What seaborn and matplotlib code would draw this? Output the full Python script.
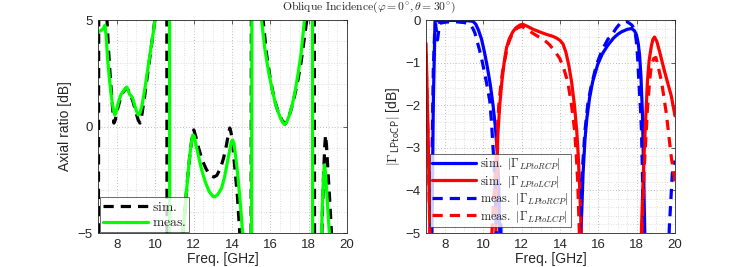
import numpy as np
import pandas as pd
import matplotlib
matplotlib.use("Agg")
import matplotlib.pyplot as plt
import seaborn as sns
from matplotlib.ticker import MultipleLocator

# ---------------- data ----------------
# Left panel: axial ratio [dB]  (values beyond +/-5 are off-scale)
ar_sim_f = [7.0, 7.06, 7.40, 7.47, 7.55, 7.65, 7.75, 7.83, 7.9, 8.0, 8.15, 8.3, 8.45, 8.55, 8.7,
            8.85, 9.0, 9.1, 9.19, 9.28, 9.4, 9.55, 9.7, 9.85, 9.97, 10.1, 10.58, 10.62, 11.2,
            11.43, 11.55, 11.7, 11.8, 11.9, 12.0, 12.1, 12.25, 12.45, 12.65, 12.85, 13.05, 13.2,
            13.4, 13.55, 13.7, 13.82, 13.88, 13.95, 14.05, 14.15, 14.28, 14.4, 14.5, 14.98, 15.02,
            15.55, 15.62, 15.8, 16.0, 16.2, 16.4, 16.6, 16.77, 16.9, 17.05, 17.2, 17.4, 17.6,
            17.75, 17.9, 18.0, 18.28, 18.32, 18.6, 18.7, 18.78, 18.84, 18.88, 18.93, 19.0, 19.1,
            19.19, 19.3, 20.0]
ar_sim = [-20, 20, 9, 5.0, 3.6, 2.2, 1.0, 0.16, 0.3, 0.75, 1.25, 1.6, 1.78, 1.75, 1.5,
          1.1, 0.6, 0.3, 0.16, 0.5, 1.2, 2.2, 3.2, 4.2, 5.0, 6.5, 20, -20, -10,
          -5.0, -3.8, -2.2, -1.3, -0.6, -0.16, -0.45, -1.0, -1.6, -2.0, -2.3, -2.37, -2.3,
          -1.95, -1.5, -0.9, -0.3, -0.07, -0.3, -1.0, -2.0, -3.3, -5.0, -7.0, -20, 20,
          6.0, 5.0, 3.4, 2.2, 1.3, 0.7, 0.3, 0.12, 0.3, 0.7, 1.2, 2.0, 3.0,
          4.0, 5.0, 6.0, 20, -20, -8, -4.5, -2.2, -0.9, -0.4, -0.9, -2.0, -3.5,
          -5.0, -8.0, -20]

ar_meas_f = [7.0, 7.15, 7.28, 7.36, 7.42, 7.5, 7.6, 7.7, 7.8, 7.88, 7.95, 8.05, 8.2, 8.35, 8.5,
             8.58, 8.65, 8.72, 8.8, 8.9, 9.0, 9.1, 9.2, 9.3, 9.45, 9.6, 9.75, 9.9, 9.97, 10.1,
             10.72, 10.76, 11.2, 11.43, 11.55, 11.7, 11.8, 11.9, 11.95, 12.02, 12.1, 12.25,
             12.4, 12.6, 12.8, 13.0, 13.1, 13.25, 13.45, 13.6, 13.75, 13.9, 13.97, 14.03, 14.1,
             14.2, 14.3, 14.42, 14.55, 14.7, 15.0, 15.05, 15.45, 15.54, 15.7, 15.9, 16.1, 16.3,
             16.5, 16.65, 16.74, 16.85, 17.0, 17.15, 17.3, 17.45, 17.6, 17.78, 17.9, 18.18,
             18.22, 18.55, 18.67, 18.72, 18.77, 18.82, 18.87, 18.95, 19.02, 19.08, 19.25, 20.0]
ar_meas = [4.45, 4.5, 4.6, 4.75, 4.3, 3.2, 2.2, 1.4, 0.8, 0.54, 0.7, 1.1, 1.5, 1.7, 1.85,
           1.7, 1.5, 1.45, 1.35, 1.05, 0.75, 0.54, 0.65, 1.0, 1.8, 2.7, 3.6, 4.5, 5.0, 6.0,
           20, -20, -9, -5.0, -3.8, -2.2, -1.3, -0.6, -0.4, -0.45, -0.8, -1.4,
           -2.0, -2.6, -3.05, -3.28, -3.3, -3.2, -2.9, -2.4, -1.7, -1.0, -0.7, -0.63, -0.8,
           -1.5, -2.3, -3.5, -5.0, -8.0, -20, 20, 7.0, 5.0, 3.7, 2.6, 1.7, 0.95,
           0.45, 0.18, 0.1, 0.2, 0.55, 1.05, 1.7, 2.5, 3.4, 5.0, 7.0, 20,
           -20, -8, -5.0, -3.5, -2.4, -1.8, -2.1, -3.2, -4.2, -5.0, -8.0, -20]

# Right panel: |Gamma| [dB]  (values below -5 are off-scale)
rcp_sim_f = [7.0, 7.3, 7.38, 7.47, 8.0, 9.0, 9.45, 9.6, 9.75, 9.9, 10.05, 10.2, 10.35, 10.5,
             10.62, 10.72, 10.8, 10.87, 11.0, 14.9, 15.1, 15.2, 15.3, 15.4, 15.54, 15.7, 15.96,
             16.2, 16.48, 16.8, 17.0, 17.2, 17.5, 17.73, 17.88, 17.99, 18.08, 18.15, 18.22,
             18.3, 18.36, 18.42, 18.6, 20.0]
rcp_sim = [-20, -5.5, -2.0, -0.02, -0.01, -0.01, -0.03, -0.1, -0.25, -0.45, -0.75, -1.1, -1.5, -2.0,
           -2.5, -3.1, -4.0, -5.3, -10, -10, -4.9, -3.6, -2.8, -2.3, -1.83, -1.45, -1.05,
           -0.8, -0.6, -0.42, -0.34, -0.28, -0.22, -0.2, -0.25, -0.35, -0.55, -0.82, -1.3,
           -2.2, -3.5, -5.0, -10, -20]

lcp_sim_f = [7.0, 7.1, 7.2, 7.3, 10.5, 10.65, 10.7, 10.75, 10.85, 10.96, 11.08, 11.2, 11.35,
             11.53, 11.7, 11.9, 12.05, 12.3, 12.6, 12.94, 13.3, 13.6, 13.8, 14.0, 14.15, 14.3,
             14.45, 14.6, 14.75, 14.87, 14.95, 15.02, 15.1, 15.3, 18.1, 18.25, 18.33, 18.4,
             18.48, 18.56, 18.65, 18.77, 18.85, 18.93, 19.05, 19.2, 19.45, 19.8, 20.0]
lcp_sim = [-0.55, -2.5, -4.9, -10, -10, -4.9, -3.6, -2.7, -2.0, -1.45, -1.0, -0.66, -0.44,
           -0.28, -0.18, -0.12, -0.1, -0.15, -0.22, -0.28, -0.34, -0.38, -0.42, -0.48, -0.56, -0.75,
           -1.05, -1.45, -2.0, -2.6, -3.2, -3.9, -4.9, -10, -10, -4.9, -3.8, -3.0,
           -2.2, -1.45, -0.95, -0.6, -0.45, -0.4, -0.5, -0.75, -1.2, -1.77, -2.25]

rcp_meas_f = [7.0, 7.25, 7.32, 7.38, 7.45, 7.5, 7.56, 7.6, 7.65, 7.7, 8.0, 8.5, 9.0, 9.3, 9.45,
              9.55, 9.7, 9.85, 9.97, 10.15, 10.33, 10.42, 10.5, 10.6, 10.7, 10.8, 10.9, 11.0,
              14.8, 15.0, 15.1, 15.18, 15.3, 15.44, 15.6, 15.9, 16.2, 16.5, 16.7, 16.95, 17.2,
              17.45, 17.6, 17.75, 17.9, 17.98, 18.04, 18.12, 18.2, 18.25, 18.3, 18.35, 18.5,
              19.5, 19.7, 19.86, 20.0]
rcp_meas = [-20, -5.5, -3.0, -1.2, -0.3, -0.1, -0.3, -0.47, -0.3, -0.08, -0.05, -0.04, -0.06, -0.1, -0.2,
            -0.3, -0.55, -0.8, -1.05, -1.45, -1.9, -2.4, -3.0, -3.8, -5.5, -6.0, -4.7, -6.5,
            -10, -5.2, -4.2, -3.4, -2.6, -2.0, -1.6, -1.05, -0.7, -0.45, -0.35, -0.18, -0.05,
            -0.03, -0.07, -0.12, -0.23, -0.5, -0.82, -1.5, -2.1, -2.6, -3.6, -4.9, -10,
            -10, -4.9, -3.6, -3.3]

lcp_meas_f = [7.0, 7.1, 7.2, 7.3, 10.3, 10.44, 10.52, 10.6, 10.7, 10.8, 10.9, 11.0, 11.15, 11.3,
              11.45, 11.6, 11.8, 12.0, 12.3, 12.57, 12.9, 13.2, 13.45, 13.7, 13.98, 14.2, 14.4,
              14.6, 14.76, 14.85, 14.92, 15.0, 15.2, 18.1, 18.28, 18.4, 18.5, 18.56, 18.68,
              18.77, 18.9, 19.0, 19.1, 19.3, 19.55, 19.8, 20.0]
lcp_meas = [-0.8, -2.7, -4.9, -10, -10, -5.0, -4.3, -3.8, -2.8, -2.0, -1.55, -1.2, -0.85, -0.55,
            -0.38, -0.25, -0.18, -0.15, -0.22, -0.31, -0.4, -0.48, -0.58, -0.72, -0.9, -1.15, -1.45,
            -2.0, -2.6, -3.2, -3.8, -4.9, -10, -10, -4.9, -3.4, -2.6, -2.1, -1.4,
            -1.05, -0.9, -0.88, -1.05, -1.45, -2.2, -3.2, -3.8]

freq_ticks = [8, 10, 12, 14, 16, 18, 20]

# ---------------- style ----------------
sns.set_theme(style="white")
plt.rcParams["font.family"] = ["Liberation Sans", "DejaVu Sans"]
plt.rcParams["mathtext.fontset"] = "cm"

fig = plt.figure(figsize=(7.47, 2.67), dpi=100)
axL = fig.add_axes([98 / 747, 1 - 233 / 267, 249 / 747, 213 / 267])
axR = fig.add_axes([426 / 747, 1 - 233 / 267, 249 / 747, 213 / 267])

LW = 2.3

def draw(ax, f, v, color, ls, label):
    df = pd.DataFrame({"f": f, "v": v})
    sns.lineplot(data=df, x="f", y="v", ax=ax, color=color, linewidth=LW,
                 label=label, sort=False, estimator=None)
    line = ax.lines[-1]
    line.set_solid_joinstyle("round")
    if ls == "--":
        line.set_dashes((3.2, 2.2))
    return line

# Left
draw(axL, ar_sim_f, ar_sim, "black", "--", r"$\mathrm{sim.}$")
draw(axL, ar_meas_f, ar_meas, "#00ff00", "-", r"$\mathrm{meas.}$")

# Right
draw(axR, rcp_sim_f, rcp_sim, "#0000ff", "-", r"$\mathrm{sim.}\ |\Gamma_{LPtoRCP}|$")
draw(axR, lcp_sim_f, lcp_sim, "#ff0000", "-", r"$\mathrm{sim.}\ |\Gamma_{LPtoLCP}|$")
draw(axR, rcp_meas_f, rcp_meas, "#0000ff", "--", r"$\mathrm{meas.}\ |\Gamma_{LPtoRCP}|$")
draw(axR, lcp_meas_f, lcp_meas, "#ff0000", "--", r"$\mathrm{meas.}\ |\Gamma_{LPtoLCP}|$")

for ax in (axL, axR):
    ax.set_xlim(7, 20)
    ax.set_xticks(freq_ticks)
    ax.xaxis.set_minor_locator(MultipleLocator(0.5))
    ax.set_xlabel("Freq. [GHz]", fontsize=10, color="#262626", labelpad=1)
    ax.tick_params(which="both", direction="in", top=True, right=True,
                   labelsize=9.5, colors="#262626", length=3, width=0.5, pad=4)
    ax.tick_params(which="minor", length=0)
    for s in ax.spines.values():
        s.set_color("#262626")
        s.set_linewidth(0.6)
    ax.grid(True, which="major", linestyle=(0, (1, 2.5)), color="#a8a8a8", linewidth=0.6)
    ax.grid(True, which="minor", linestyle=(0, (1, 2.5)), color="#c4c4c4", linewidth=0.5)
    ax.set_axisbelow(True)

axL.set_ylim(-5, 5)
axL.set_yticks([-5, 0, 5])
axL.yaxis.set_minor_locator(MultipleLocator(1))
axL.set_ylabel("Axial ratio [dB]", fontsize=10, color="#262626", labelpad=4)

axR.set_ylim(-5, 0)
axR.set_yticks([-5, -4, -3, -2, -1, 0])
axR.yaxis.set_minor_locator(MultipleLocator(0.2))
axR.set_ylabel(r"$|\Gamma_{\mathsf{LPtoCP}}|$ [dB]", fontsize=10, color="#262626", labelpad=2)

legL = axL.legend(loc="lower left", bbox_to_anchor=(2 / 249, 1 / 213), borderaxespad=0,
                  fontsize=9.8, frameon=True, fancybox=False, edgecolor="#262626",
                  handlelength=3.3, handletextpad=0.3, borderpad=0.2, labelspacing=0.1)
legL.get_frame().set_linewidth(0.6)

legR = axR.legend(loc="lower left", bbox_to_anchor=(4 / 249, 6 / 213), borderaxespad=0,
                  fontsize=8.8, frameon=True, fancybox=False, edgecolor="#262626",
                  handlelength=3.6, handletextpad=0.3, borderpad=0.2, labelspacing=0.12)
legR.get_frame().set_linewidth(0.6)

fig.text(0.494, 0.972, r"$\mathrm{Oblique\ Incidence}(\varphi=0^{\circ},\theta=30^{\circ})$",
         ha="center", va="center", fontsize=8.4, color="#262626")

fig.savefig("out.png", dpi=100)
